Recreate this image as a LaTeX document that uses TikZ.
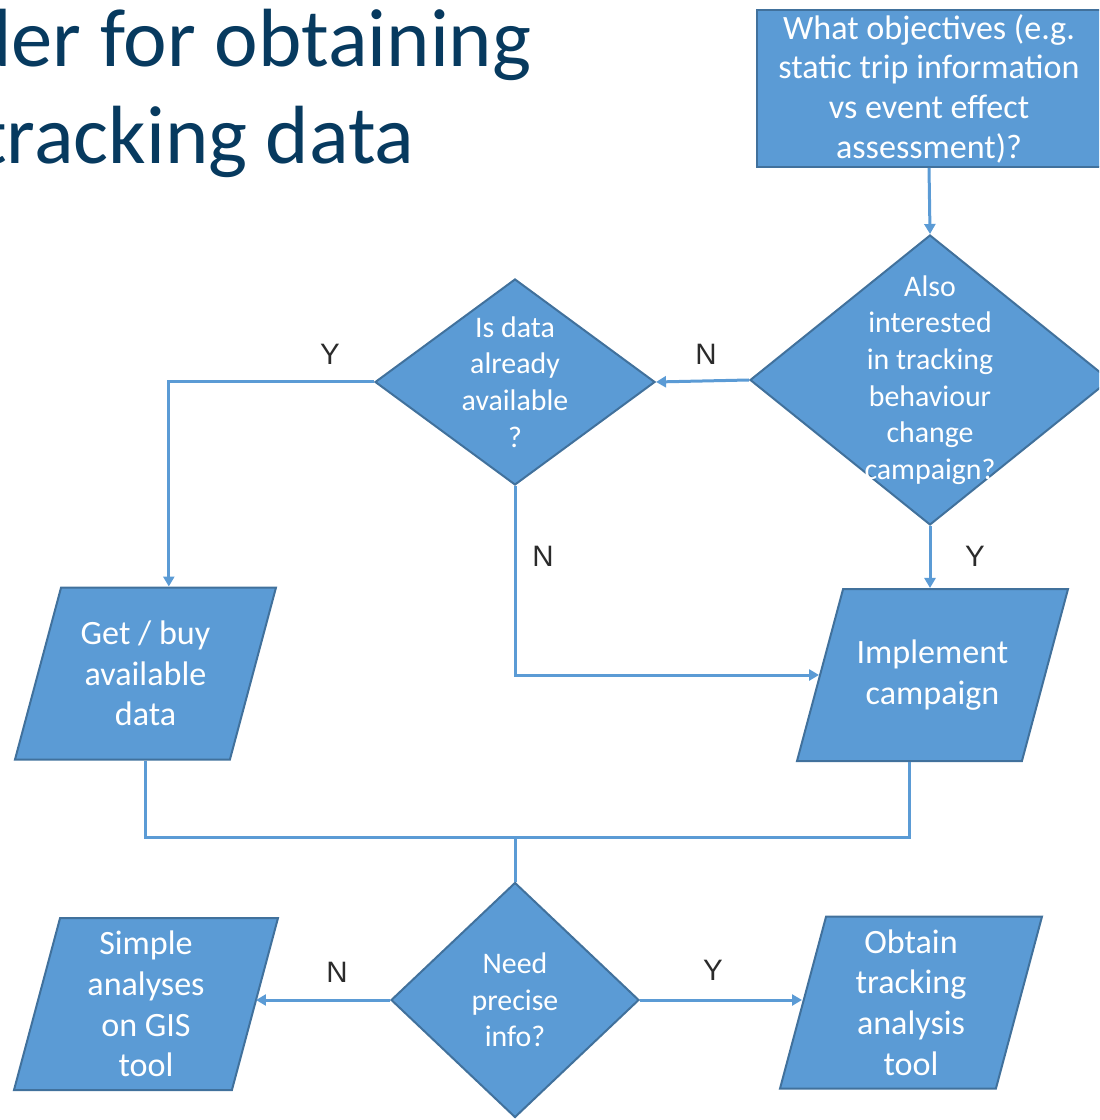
\documentclass[tikz,border=0pt]{standalone}
\usepackage{fontspec}
\setmainfont{Carlito}
\newfontfamily\labelfont{Liberation Sans}
\usetikzlibrary{shapes.geometric, arrows.meta}

\definecolor{boxfill}{HTML}{5B9BD5}
\definecolor{boxline}{HTML}{41719C}
\definecolor{titleblue}{HTML}{073A5F}
\definecolor{yesno}{HTML}{2B2B2B}

\tikzset{
  box/.style={rectangle, draw=boxline, fill=boxfill, line width=0.2mm, text=white, align=center, inner sep=0pt, font=\fontsize{9.7}{11.3}\selectfont},
  decision/.style={diamond, draw=boxline, fill=boxfill, line width=0.2mm, inner sep=0pt},
  dectext/.style={text=white, align=center, font=\fontsize{8.5}{10.4}\selectfont},
  io/.style={trapezium, trapezium left angle=75, trapezium right angle=105, trapezium stretches body=true, draw=boxline, fill=boxfill, line width=0.2mm, inner xsep=0pt, inner ysep=8.6mm},
  iotext/.style={text=white, align=center, font=\fontsize{9.7}{11.6}\selectfont},
  flow/.style={draw=boxfill, line width=0.3mm},
  yn/.style={text=yesno, font=\labelfont\fontsize{8.4}{10}\selectfont, inner sep=0pt},
  headline/.style={anchor=base east, text=titleblue, font=\fontsize{23.5}{28}\selectfont, inner sep=0pt},
}

\begin{document}
\begin{tikzpicture}[x=0.1mm, y=-0.1mm, >={Triangle[length=1mm,width=1.1mm]}]
	\useasboundingbox (0,0) rectangle (1099,1120);
	\clip (0,0) rectangle (1099,1120);
	
	% Titel
	\node[headline] (title1) at (532,67) {der for obtaining};
	\node[headline] (title2) at (415,164) {tracking data};
	
	% Kaesten
	\node[box, minimum width=34.4mm, minimum height=15.7mm] (objectives) at (929,88.5) {What objectives (e.g.\\static trip information\\vs event effect\\assessment)?};
	\node[decision, minimum width=36mm, minimum height=29mm, label={[dectext]center:{Also\\interested\\in tracking\\behaviour\\change\\campaign?}}] (tracking) at (930,380) {};
	\node[decision, minimum width=28mm, minimum height=20.6mm, label={[dectext]center:{Is data\\already\\available\\?}}] (available) at (515,382) {};
	\node[io, minimum width=26.1mm, label={[iotext]center:{Get / buy\\available\\data}}] (getdata) at (145.5,673.5) {};
	\node[io, minimum width=27.1mm, label={[iotext]center:{Implement\\campaign}}] (campaign) at (932.5,675) {};
	\node[decision, minimum width=24.8mm, minimum height=23.5mm, label={[dectext]center:{Need\\precise\\info?}}] (precise) at (515,1000) {};
	\node[io, minimum width=26.4mm, label={[iotext]center:{Simple\\analyses\\on GIS\\tool}}] (gis) at (146,1004) {};
	\node[io, minimum width=26.2mm, label={[iotext]center:{Obtain\\tracking\\analysis\\tool}}] (tool) at (911,1002.5) {};
	\coordinate (merge) at (515,837);
	
	% Pfeile
	\draw[flow,->] (objectives.south) -- (tracking.north);
	\draw[flow,->] (tracking.west) -- (available.east);
	\draw[flow,->] (available.west) -| (getdata.top side);
	\draw[flow,->] (available.south) |- (campaign.left side);
	\draw[flow,->] (tracking.south) -- (tracking.south |- campaign.north);
	\draw[flow] (getdata.south) |- (merge) -| (campaign.bottom side);
	\draw[flow] (merge) -- (precise.north);
	\draw[flow,->] (precise.west) -- (precise.west -| gis.right side);
	\draw[flow,->] (precise.east) -- (precise.east -| tool.left side);
	
	% Beschriftungen
	\node[yn] (no1) at (706,354) {N};
	\node[yn] (yes1) at (330,354) {Y};
	\node[yn] (no2) at (543,556) {N};
	\node[yn] (yes2) at (975,556) {Y};
	\node[yn] (no3) at (337,972) {N};
	\node[yn] (yes3) at (713,970) {Y};
\end{tikzpicture}
\end{document}
